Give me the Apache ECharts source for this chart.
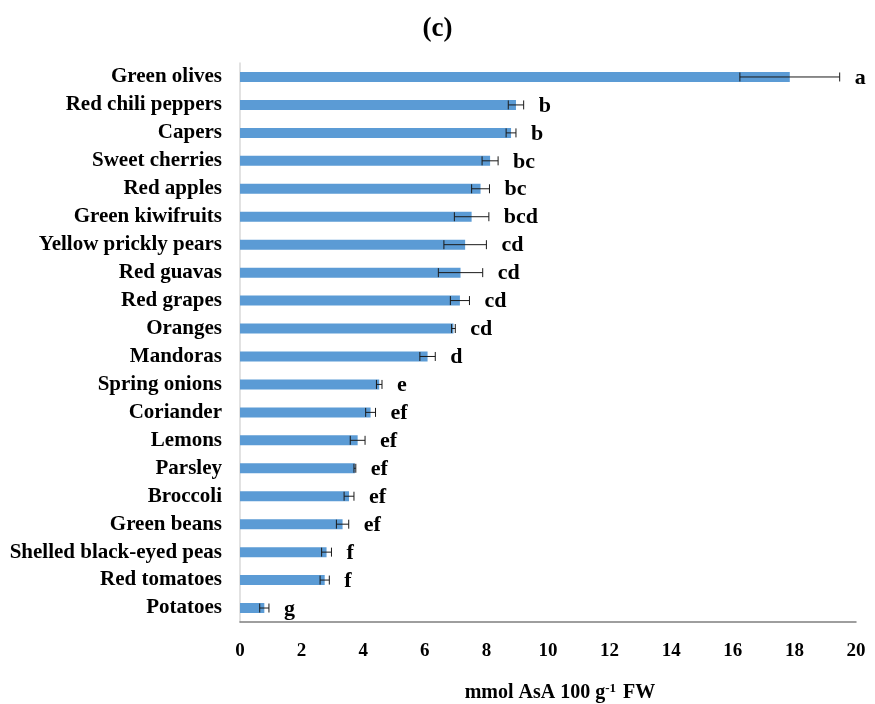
<!DOCTYPE html>
<html>
<head>
<meta charset="utf-8">
<script src="https://cdn.jsdelivr.net/npm/echarts@6/dist/echarts.min.js"></script>
<style>
  html, body { margin: 0; padding: 0; background: #fff; }
  #chart { width: 875px; height: 704px; }
</style>
</head>
<body>
<div id="chart"></div>
<script>
// Ascorbic acid content per product (top to bottom)
const categories = [
  'Green olives', 'Red chili peppers', 'Capers', 'Sweet cherries', 'Red apples',
  'Green kiwifruits', 'Yellow prickly pears', 'Red guavas', 'Red grapes', 'Oranges',
  'Mandoras', 'Spring onions', 'Coriander', 'Lemons', 'Parsley',
  'Broccoli', 'Green beans', 'Shelled black-eyed peas', 'Red tomatoes', 'Potatoes'
];
const means = [
  17.85, 8.96, 8.80, 8.12, 7.81,
  7.52, 7.31, 7.16, 7.14, 6.93,
  6.09, 4.52, 4.24, 3.82, 3.73,
  3.54, 3.33, 2.81, 2.75, 0.79
];
const errors = [
  1.62, 0.25, 0.16, 0.26, 0.29,
  0.56, 0.69, 0.72, 0.31, 0.06,
  0.25, 0.09, 0.16, 0.24, 0.03,
  0.16, 0.20, 0.16, 0.15, 0.15
];
const letters = [
  'a', 'b', 'b', 'bc', 'bc',
  'bcd', 'cd', 'cd', 'cd', 'cd',
  'd', 'e', 'ef', 'ef', 'ef',
  'ef', 'ef', 'f', 'f', 'g'
];
const xTicks = { min: 0, max: 20, interval: 2 };

const serif = '"Liberation Serif", "Times New Roman", serif';

const errorData = categories.map((c, i) => [i, means[i], errors[i], letters[i]]);

const chart = echarts.init(document.getElementById('chart'), null, { renderer: 'canvas' });
chart.setOption({
  animation: false,
  backgroundColor: '#ffffff',
  title: {
    text: '(c)',
    left: 'center',
    top: 11,
    textStyle: { fontFamily: serif, fontWeight: 'bold', fontSize: 27, color: '#000' }
  },
  grid: { left: 240, right: 19, top: 63, bottom: 82, containLabel: false, outerBoundsMode: 'none' },
  xAxis: {
    type: 'value',
    min: xTicks.min, max: xTicks.max, interval: xTicks.interval,
    splitLine: { show: false },
    axisTick: { show: false },
    axisLine: { show: true, lineStyle: { color: '#7f7f7f', width: 1.5 } },
    axisLabel: {
      margin: 20,
      fontFamily: serif, fontWeight: 'bold', fontSize: 19, color: '#000'
    },
    name: '{n|mmol AsA 100 g}{s|-1}{n| FW}',
    nameLocation: 'middle',
    nameGap: 60,
    nameTextStyle: {
      padding: [0, 0, 0, 24],
      rich: {
        n: { fontFamily: serif, fontWeight: 'bold', fontSize: 20, color: '#000' },
        s: { fontFamily: serif, fontWeight: 'bold', fontSize: 13, color: '#000', verticalAlign: 'top', padding: [0, 2, 9, 0] }
      }
    }
  },
  yAxis: {
    type: 'category',
    data: categories,
    inverse: true,
    axisTick: { show: false },
    axisLine: { show: true, lineStyle: { color: '#d9d9d9', width: 1.5 } },
    axisLabel: {
      margin: 18,
      fontFamily: serif, fontWeight: 'bold', fontSize: 21, color: '#000'
    }
  },
  series: [
    {
      type: 'bar',
      data: means,
      barWidth: 10,
      itemStyle: { color: '#5b9bd5' },
      z: 2
    },
    {
      type: 'custom',
      data: errorData,
      z: 3,
      renderItem: function (params, api) {
        const idx = api.value(0);
        const m = api.value(1);
        const e = api.value(2);
        const lo = api.coord([m - e, idx]);
        const hi = api.coord([m + e, idx]);
        const y = lo[1];
        const cap = 4.5;
        const style = { stroke: '#1a1a1a', lineWidth: 1 };
        return {
          type: 'group',
          children: [
            { type: 'line', shape: { x1: lo[0], y1: y, x2: hi[0], y2: y }, style: style },
            { type: 'line', shape: { x1: lo[0], y1: y - cap, x2: lo[0], y2: y + cap }, style: style },
            { type: 'line', shape: { x1: hi[0], y1: y - cap, x2: hi[0], y2: y + cap }, style: style },
            {
              type: 'text',
              x: hi[0] + 15,
              y: y + 1,
              style: {
                text: errorData[params.dataIndex][3],
                fontFamily: serif, fontWeight: 'bold', fontSize: 22,
                fill: '#000', align: 'left', verticalAlign: 'middle'
              }
            }
          ]
        };
      }
    }
  ]
});
</script>
</body>
</html>
